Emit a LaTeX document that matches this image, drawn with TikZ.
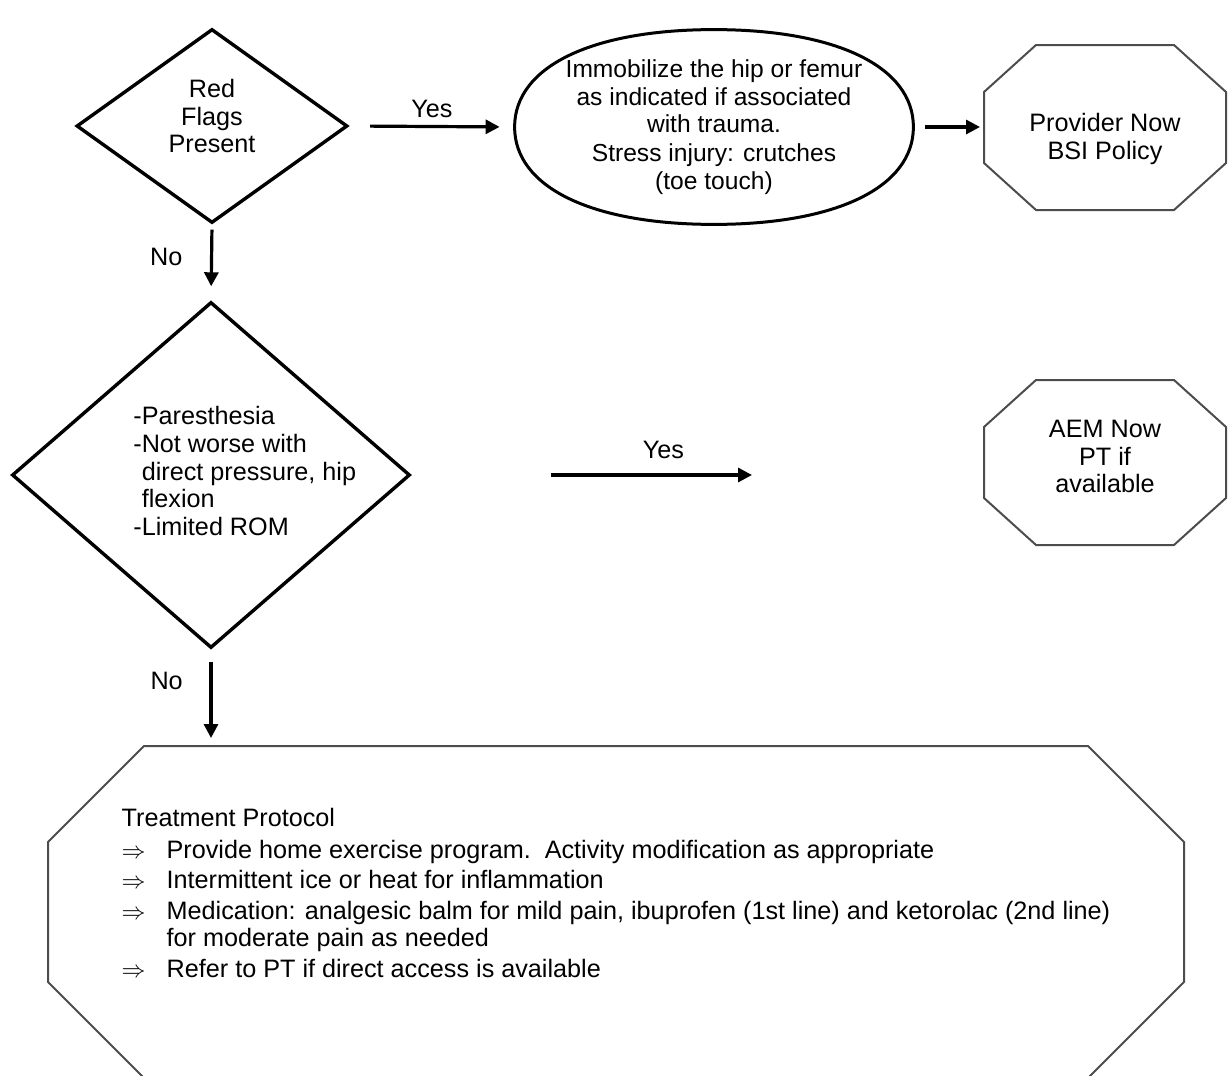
\documentclass[tikz,border=0pt]{standalone}
\usepackage{fontspec}
\setmainfont{Liberation Sans}
\usetikzlibrary{shapes.geometric, arrows.meta, positioning, calc}

% octagon frame round a node: node, x cut, y cut
\newcommand{\octframe}[3]{%
    \draw[frame] ($(#1.north west)+(#2,0)$) -- ($(#1.north east)+(-#2,0)$)
        -- ($(#1.north east)+(0,#3)$) -- ($(#1.south east)+(0,-#3)$)
        -- ($(#1.south east)+(-#2,0)$) -- ($(#1.south west)+(#2,0)$)
        -- ($(#1.south west)+(0,-#3)$) -- ($(#1.north west)+(0,#3)$) -- cycle;}

\begin{document}
\begin{tikzpicture}[x=0.5pt, y=-0.5pt,
        every node/.style={font=\fontsize{12.6}{13.8}\selectfont},
        decision/.style={diamond, draw=black, line width=1.7pt, inner sep=0pt, align=center},
        action/.style={ellipse, align=center, inner xsep=-6pt,
            inner ysep=0pt, minimum width=199pt, minimum height=97pt,
            font=\fontsize{12.3}{13.8}\selectfont},
        oval/.style={draw=black, line width=1.5pt},
        outcome/.style={rectangle, inner sep=0pt, outer sep=0pt, align=center,
            minimum width=121pt, minimum height=82.5pt},
        frame/.style={draw=black!70, line width=1pt},
        arr/.style={-{Triangle[length=7pt, width=7pt]}, line width=1.6pt}
    ]
        \useasboundingbox (0,0) rectangle (1228,1076);

        \node[decision, minimum width=135.5pt, minimum height=97pt] (redflags) at (212,126)
            {Red\\Flags\\Present\\[-3.8pt]\mbox{}};
        \node[action] (immob) at (714,127) {Immobilize the hip or femur\\as indicated if associated\\with trauma.\\[0.5pt]Stress injury: crutches\\(toe touch)};
        % a slightly fuller oval than a plain ellipse
        \draw[oval] (immob.west) .. controls +(0,-60) and +(-123,0) .. (immob.north)
            .. controls +(123,0) and +(0,-60) .. (immob.east)
            .. controls +(0,60) and +(123,0) .. (immob.south)
            .. controls +(-123,0) and +(0,60) .. (immob.west) -- cycle;
        \node[outcome] (prov) at (1105,127.5) {\mbox{}\\[7pt]Provider Now\\BSI Policy};
        \node[outcome, below=85pt of prov] (aem) {AEM Now\\PT if\\available\\[-8pt]\mbox{}};

        \node[decision, minimum width=199pt, minimum height=173pt] (cond) at (211,475) {};
        \node[anchor=west, align=left, inner sep=0pt] (condtxt) at (133,471)
            {-Paresthesia\\-Not worse with\\\phantom{-}direct pressure, hip\\\phantom{-}flexion\\-Limited ROM};

        \node[outcome, align=left, minimum width=568pt, minimum height=166pt] (protocol) at (616,912)
            {Treatment Protocol\\[2pt]
            \makebox[22.5pt][l]{$\Rightarrow$}Provide home exercise program.\ \ Activity modification as appropriate\\[1.5pt]
            \makebox[22.5pt][l]{$\Rightarrow$}Intermittent ice or heat for inflammation\\[1.5pt]
            \makebox[22.5pt][l]{$\Rightarrow$}Medication: analgesic balm for mild pain, ibuprofen (1st line) and ketorolac (2nd line)\\
            \hspace*{22.5pt}for moderate pain as needed\\[1.5pt]
            \makebox[22.5pt][l]{$\Rightarrow$}Refer to PT if direct access is available\\[5.3pt]\mbox{}};

        \octframe{prov}{52}{47}
        \octframe{aem}{52}{47}
        \octframe{protocol}{96}{96}

        \coordinate (yesstop) at (752,475);

        \draw[arr, shorten <=10.5pt, shorten >=7.5pt] (redflags.east) -- node[above]{Yes} (immob.west);
        \draw[arr, shorten <=6pt, shorten >=2pt] (immob.east) -- (immob.east -| prov.west);
        \draw[arr, shorten <=2.5pt, shorten >=7pt] (redflags.south) -- node[left, pos=0.43, xshift=-10.5pt]{No} (cond.north);
        \draw[arr, shorten <=69.5pt] (cond.east) -- node[above, pos=0.74, yshift=4pt]{Yes} (yesstop);
        \draw[arr, shorten <=6pt, shorten >=4pt] (cond.south) -- node[left, pos=0.32, xshift=-10pt]{No} (cond.south |- protocol.north);
    \end{tikzpicture}
\end{document}
